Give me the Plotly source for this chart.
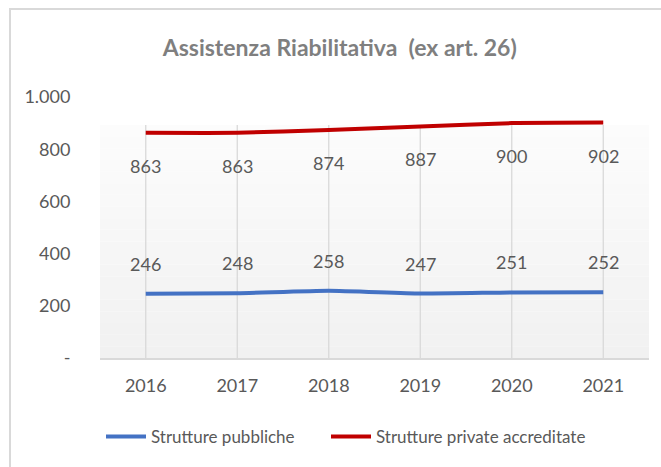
import plotly.graph_objects as go

years = ["2016", "2017", "2018", "2019", "2020", "2021"]
pubbliche = [246, 248, 258, 247, 251, 252]
private = [863, 863, 874, 887, 900, 902]
y_tickvals = [0, 200, 400, 600, 800, 1000]
y_ticktext = ["-", "200", "400", "600", "800", "1.000"]

FONT = "Lato, Roboto, sans-serif"
GRAY = "#595959"

fig = go.Figure()
fig.add_trace(go.Scatter(x=years, y=pubbliche, mode="lines", name="Strutture pubbliche",
                         legend="legend",
                         line=dict(color="#4472C4", width=4, shape="spline", smoothing=0.5)))
fig.add_trace(go.Scatter(x=years, y=private, mode="lines", name="Strutture private accreditate",
                         legend="legend2",
                         line=dict(color="#C00000", width=4, shape="spline", smoothing=0.5)))

for i, v in enumerate(private):
    fig.add_annotation(x=i, y=v, text=str(v), showarrow=False, yshift=-33,
                       font=dict(family=FONT, size=18, color=GRAY))
for i, v in enumerate(pubbliche):
    fig.add_annotation(x=i, y=v, text=str(v), showarrow=False, yshift=30,
                       font=dict(family=FONT, size=18, color=GRAY))

# plot-area gradient background (bands)
n = 20
top = 0.893
for i in range(n):
    t = i / (n - 1)
    c = int(round(241 + (252 - 241) * t))
    fig.add_shape(type="rect", xref="paper", yref="paper", x0=0, x1=1,
                  y0=top * i / n, y1=top * (i + 1) / n,
                  fillcolor=f"rgb({c},{c},{c})", line=dict(width=0), layer="below")

# vertical gridlines
for i in range(len(years)):
    fig.add_shape(type="line", xref="x", yref="paper", x0=i, x1=i, y0=0, y1=top,
                  line=dict(color="#d9d9d9", width=1.3), layer="below")

# outer border
fig.add_shape(type="rect", xref="paper", yref="paper",
              x0=(10 - 100) / 549, x1=(672 - 100) / 549,
              y0=(358 - 480) / 261, y1=(358 - 9) / 261,
              line=dict(color="#d9d9d9", width=2), fillcolor="rgba(0,0,0,0)")

leg_common = dict(orientation="h", xref="container", yref="container", xanchor="left",
                  y=1 - 437 / 467, yanchor="middle", font=dict(family=FONT, size=17, color=GRAY),
                  itemwidth=40, bgcolor="rgba(0,0,0,0)")

fig.update_layout(
    width=661, height=467,
    margin=dict(l=100, r=12, t=97, b=109),
    paper_bgcolor="white", plot_bgcolor="rgba(0,0,0,0)",
    font=dict(family=FONT, color=GRAY, size=18),
    title=dict(text="Assistenza Riabilitativa  (ex art. 26)", x=0.514, xref="container", xanchor="center",
               y=1 - 48 / 467, yref="container", yanchor="middle",
               font=dict(family=FONT, size=23, color="#7f7f7f", weight="bold")),
    showlegend=True,
    legend=dict(x=101 / 661, **leg_common),
    legend2=dict(x=326 / 661, **leg_common),
    xaxis=dict(type="category", range=[-0.5, 5.5], showgrid=False, showline=True,
               linecolor="#d9d9d9", linewidth=2, ticks="outside", ticklen=10,
               tickcolor="rgba(0,0,0,0)", tickfont=dict(family=FONT, size=18, color=GRAY),
               zeroline=False),
    yaxis=dict(range=[0, 1000], tickvals=y_tickvals, ticktext=y_ticktext, showgrid=False,
               showline=False, zeroline=False, ticks="outside", ticklen=25,
               tickcolor="rgba(0,0,0,0)", tickfont=dict(family=FONT, size=18, color=GRAY)),
)

fig.write_html("out.html", config={"displayModeBar": False},
               post_script="document.body.style.margin='0';")
